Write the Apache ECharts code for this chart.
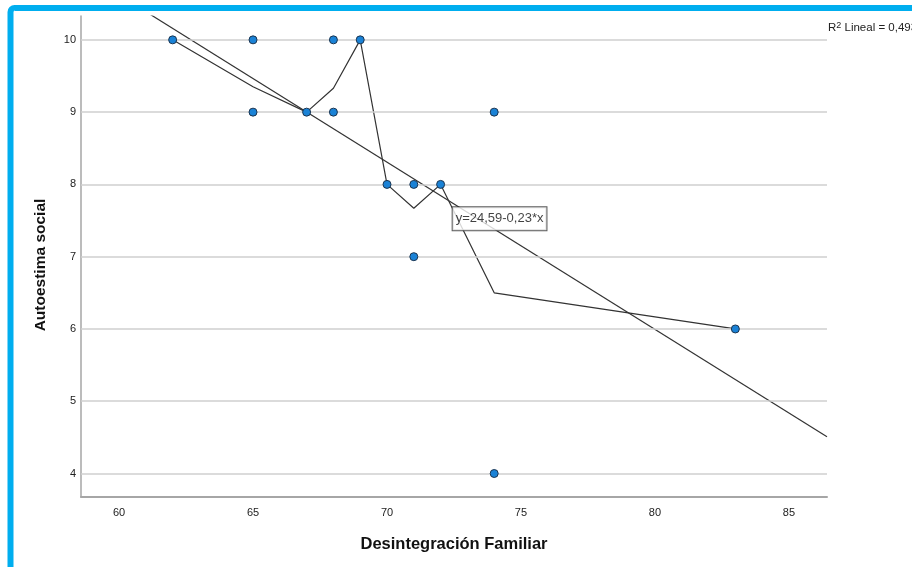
<!DOCTYPE html>
<html><head><meta charset="utf-8">
<script src="https://cdn.jsdelivr.net/npm/echarts@6/dist/echarts.min.js"></script>
<style>html,body{margin:0;padding:0;background:#fff}#c{width:912px;height:567px}</style>
</head><body><div id="c"></div>
<script>
// Data
const pointsX = [62, 65, 68, 69, 65, 67, 68, 74, 70, 71, 72, 71, 83, 74];
const pointsY = [10, 10, 10, 10, 9, 9, 9, 9, 8, 8, 8, 7, 6, 4];
const fitX = [62, 65, 67, 68, 69, 70, 71, 72, 74, 83];
const fitY = [10, 9.35, 9.0, 9.33, 10, 8, 7.67, 8, 6.5, 6];
const regX = [61.0, 86.42];
const regY = [10.39, 4.51];
const xTicks = [60, 65, 70, 75, 80, 85];
const yTicks = [4, 5, 6, 7, 8, 9, 10];
const eqLabel = 'y=24,59-0,23*x';
const eqPos = [74.2, 7.525];
const r2Text = '0,493';
const xTitle = 'Desintegración Familiar';
const yTitle = 'Autoestima social';

const FONT = '"Liberation Sans", Arial, sans-serif';
const chart = echarts.init(document.getElementById('c'), null, {renderer: 'canvas'});
const zip = (a, b) => a.map((v, i) => [v, b[i]]);

chart.setOption({
  animation: false,
  backgroundColor: '#fff',
  grid: {left: 81, top: 16, right: 85, bottom: 70, containLabel: false},
  xAxis: {
    type: 'value', min: 58.58, max: 86.42,
    axisLine: {show: true, lineStyle: {color: '#a6a6a6', width: 2}},
    axisTick: {show: false, customValues: xTicks},
    axisLabel: {customValues: xTicks, color: '#222', fontSize: 11, fontFamily: FONT, margin: 10},
    splitLine: {show: false}
  },
  yAxis: {
    type: 'value', min: 3.675, max: 10.33,
    axisLine: {show: true, lineStyle: {color: '#a6a6a6', width: 1.5}},
    axisTick: {show: false, customValues: yTicks},
    axisLabel: {customValues: yTicks, color: '#222', fontSize: 11, fontFamily: FONT, margin: 5},
    splitLine: {show: false}
  },
  series: [
    {
      type: 'line', data: zip(regX, regY), symbol: 'none', z: 3, clip: true,
      lineStyle: {color: '#333', width: 1.2},
      markLine: {
        silent: true, symbol: 'none', label: {show: false}, animation: false,
        lineStyle: {color: '#cfcfcf', width: 1.5, type: 'solid'},
        data: yTicks.map(v => ({yAxis: v}))
      }
    },
    {
      type: 'line', data: zip(fitX, fitY), symbol: 'none', z: 3,
      lineStyle: {color: '#333', width: 1.2}
    },
    {
      type: 'scatter', data: zip(pointsX, pointsY), symbol: 'circle', symbolSize: 8, z: 5,
      itemStyle: {color: '#1a82d6', borderColor: '#1c3550', borderWidth: 1, opacity: 1}
    },
    {
      type: 'scatter', data: [eqPos], symbolSize: 1, z: 6, silent: true,
      itemStyle: {color: 'rgba(0,0,0,0)', borderWidth: 0},
      label: {
        show: true, position: 'inside', formatter: eqLabel,
        color: '#111', fontSize: 13, fontFamily: FONT,
        backgroundColor: '#fff', borderColor: '#333', borderWidth: 1,
        padding: [5, 3, 5, 3]
      }
    }
  ],
  graphic: [
    {type: 'rect', shape: {x: 10.5, y: 8, width: 1000, height: 1000, r: 4},
     style: {fill: 'none', stroke: '#00aeef', lineWidth: 6}, z: 100},
    {type: 'text', left: 828, top: 21, z: 50,
     style: {text: 'R{s|2} Lineal = ' + r2Text, fill: '#222', font: '11.5px ' + FONT,
       rich: {s: {fontSize: 9, verticalAlign: 'top', padding: [0, 0, 5, 0], fontFamily: FONT}}}},
    {type: 'text', x: 454, y: 544, z: 50,
     style: {text: xTitle, fill: '#111', font: 'bold 16.5px ' + FONT, align: 'center', verticalAlign: 'middle'}},
    {type: 'text', x: 41, y: 265, rotation: Math.PI / 2, z: 50,
     style: {text: yTitle, fill: '#111', font: 'bold 15.5px ' + FONT, align: 'center', verticalAlign: 'middle'}}
  ]
});
</script></body></html>
